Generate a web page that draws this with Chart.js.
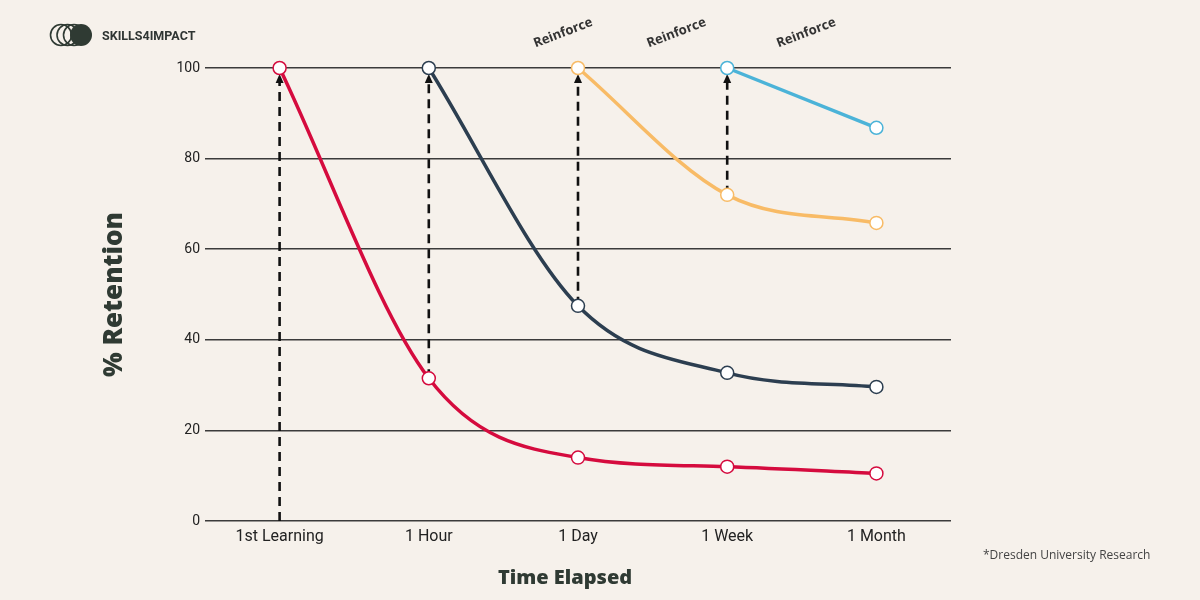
<!DOCTYPE html>
<html>
<head>
<meta charset="utf-8">
<title>Forgetting curve</title>
<script src="https://cdn.jsdelivr.net/npm/chart.js@4.4.1/dist/chart.umd.min.js"></script>
<style>
  html, body { margin: 0; padding: 0; background: #f6f1eb; }
  #wrap { position: relative; width: 1200px; height: 600px; background: #f6f1eb; overflow: hidden; }
  #chart { position: absolute; left: 0; top: 0; }
  .logo { position: absolute; left: 48px; top: 23px; height: 24px; display: flex; align-items: center; }
  .logo span { margin-left: 8px; font: 700 12.5px Roboto, sans-serif; color: #2f3533; }
  .x-title { position: absolute; left: 465px; width: 200px; top: 563px; text-align: center;
             font: 800 20px "Open Sans", sans-serif; color: #2f3a33; }
  .source { position: absolute; left: 983px; top: 546px; font: 12px "Open Sans", sans-serif; color: #444; }
</style>
</head>
<body>
<div id="wrap">
  <canvas id="chart" width="1200" height="600"></canvas>
  <div class="logo">
    <svg width="46" height="24" viewBox="0 0 46 24">
      <circle cx="13" cy="12" r="10.5" fill="none" stroke="#2f3a33" stroke-width="1.6"/>
      <circle cx="19.5" cy="12" r="10.5" fill="none" stroke="#2f3a33" stroke-width="1.6"/>
      <circle cx="26" cy="12" r="10.5" fill="none" stroke="#2f3a33" stroke-width="1.6"/>
      <circle cx="33" cy="12" r="11" fill="#2f3a33"/>
    </svg>
    <span>SKILLS4IMPACT</span>
  </div>
  <div class="x-title">Time Elapsed</div>
  <div class="source">*Dresden University Research</div>
</div>
<script>
const categories = ["1st Learning", "1 Hour", "1 Day", "1 Week", "1 Month"];
const firstLearning = [100, 31.5, 14, 12, 10.5];
const afterHour = [null, 100, 47.5, 32.7, 29.6];
const afterDay = [null, null, 100, 72, 65.8];
const afterWeek = [null, null, null, 100, 86.8];
const yTicks = [0, 20, 40, 60, 80, 100];

// each review starts where the previous curve had dropped to
const reviews = [
  { at: 0, from: 0 },
  { at: 1, from: firstLearning[1] },
  { at: 2, from: afterHour[2] },
  { at: 3, from: afterDay[3] },
];
const reinforceLabel = "Reinforce";

const line = (data, color) => ({
  data,
  borderColor: color,
  borderWidth: 3.5,
  pointRadius: 6.5,
  pointBorderWidth: 1.5,
  pointBackgroundColor: "#fff",
  pointBorderColor: color,
  cubicInterpolationMode: "monotone",
  clip: false,
});

const reviewArrows = {
  id: "reviewArrows",
  beforeDatasetsDraw(chart) {
    const { ctx, scales: { x, y } } = chart;
    const top = y.getPixelForValue(100);
    ctx.save();
    ctx.strokeStyle = "#111";
    ctx.fillStyle = "#111";
    ctx.lineWidth = 2.6;
    reviews.forEach((r) => {
      const px = x.getPixelForValue(r.at);
      ctx.setLineDash([9, 6]);
      ctx.beginPath();
      ctx.moveTo(px, y.getPixelForValue(r.from));
      ctx.lineTo(px, top + 14);
      ctx.stroke();
      ctx.setLineDash([]);
      ctx.beginPath();
      ctx.moveTo(px, top + 6);
      ctx.lineTo(px - 4, top + 15);
      ctx.lineTo(px + 4, top + 15);
      ctx.closePath();
      ctx.fill();
    });
    ctx.restore();
  },
};

const reinforceNotes = {
  id: "reinforceNotes",
  afterDraw(chart) {
    const { ctx, chartArea, scales: { x } } = chart;
    // roughly between the reviews, as in the original artwork
    [1.9, 2.66, 3.53].forEach((pos) => {
      ctx.save();
      ctx.translate(x.getPixelForValue(pos), chartArea.top - 35);
      ctx.rotate((-21 * Math.PI) / 180);
      ctx.font = "700 13px 'Open Sans', sans-serif";
      ctx.fillStyle = "#333";
      ctx.textAlign = "center";
      ctx.textBaseline = "middle";
      ctx.fillText(reinforceLabel, 0, 0);
      ctx.restore();
    });
  },
};

new Chart(document.getElementById("chart"), {
  type: "line",
  data: {
    labels: categories,
    datasets: [
      line(firstLearning, "#d50b3e"),
      line(afterHour, "#2c3e50"),
      line(afterDay, "#f8bb66"),
      line(afterWeek, "#4bb3d8"),
    ],
  },
  options: {
    responsive: false,
    animation: false,
    devicePixelRatio: 1,
    layout: { padding: { left: 90, right: 249, top: 68, bottom: 0 } },
    plugins: { legend: { display: false }, tooltip: { enabled: false } },
    scales: {
      x: {
        offset: true,
        grid: { display: false, drawTicks: false },
        border: { display: false },
        afterFit(s) { s.height = 79; },
        ticks: { padding: 6, color: "#222", font: { family: "Roboto", size: 16 } },
      },
      y: {
        min: 0,
        max: 100,
        afterFit(s) { s.width = 115; },
        afterBuildTicks(s) { s.ticks = yTicks.map((v) => ({ value: v })); },
        grid: { color: "#3b3b3b", lineWidth: 1.5, drawTicks: false },
        border: { display: false },
        ticks: { padding: 5, color: "#222", font: { family: "Roboto", size: 14 } },
        title: {
          display: true,
          text: "% Retention",
          color: "#2f3a33",
          font: { family: "Open Sans", size: 26, weight: "800" },
          padding: { top: 9 },
        },
      },
    },
  },
  plugins: [reviewArrows, reinforceNotes],
});
</script>
</body>
</html>
